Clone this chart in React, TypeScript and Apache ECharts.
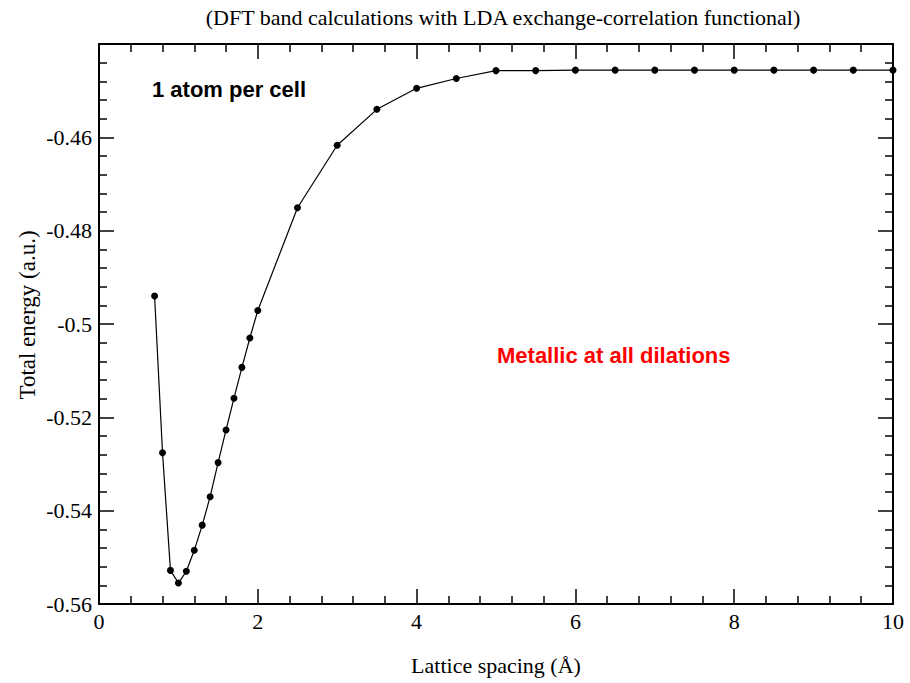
import React, { useEffect, useRef } from "react";
import * as echarts from "echarts";

const latticeSpacing = [0.7, 0.8, 0.9, 1.0, 1.1, 1.2, 1.3, 1.4, 1.5, 1.6, 1.7, 1.8, 1.9, 2.0, 2.5, 3.0, 3.5, 4.0, 4.5, 5.0, 5.5, 6.0, 6.5, 7.0, 7.5, 8.0, 8.5, 9.0, 9.5, 10.0];
const totalEnergy = [-0.494, -0.5276, -0.5528, -0.5555, -0.553, -0.5485, -0.5431, -0.537, -0.5297, -0.5227, -0.5159, -0.5093, -0.503, -0.4971, -0.4751, -0.4617, -0.454, -0.4495, -0.4474, -0.4457, -0.4457, -0.4456, -0.4456, -0.4456, -0.4456, -0.4456, -0.4456, -0.4456, -0.4456, -0.4456];

const titleText = "(DFT band calculations with LDA exchange-correlation functional)";
const xAxisTitle = "Lattice spacing (Å)";
const yAxisTitle = "Total energy (a.u.)";
const note1 = "1 atom per cell";
const note2 = "Metallic at all dilations";

const SERIF = "'Liberation Serif', 'Times New Roman', serif";
const SANS = "'Liberation Sans', Arial, sans-serif";

export default function App() {
  const ref = useRef<HTMLDivElement>(null);
  useEffect(() => {
    if (!ref.current) return;
    const chart = echarts.init(ref.current, null, { renderer: "svg" });
    const pts = latticeSpacing.map((x, i) => [x, totalEnergy[i]]);
    const tickCommon = {
      axisLine: { show: true, onZero: false, lineStyle: { color: "#000", width: 2 } },
      axisTick: { show: true, inside: true, length: 15, lineStyle: { color: "#000", width: 1.5 } },
      minorTick: { show: true, splitNumber: 5, length: 8, lineStyle: { color: "#000", width: 1.5 } },
      splitLine: { show: false },
      minorSplitLine: { show: false },
    };
    chart.setOption({
      animation: false,
      backgroundColor: "#fff",
      title: {
        text: titleText,
        left: 498,
        textAlign: "center",
        top: 1,
        textStyle: { fontFamily: SERIF, fontSize: 22, fontWeight: "normal", color: "#000" },
      },
      grid: { left: 99, right: 17, top: 44, bottom: 79, containLabel: false },
      xAxis: [
        {
          type: "value",
          min: 0,
          max: 10,
          interval: 2,
          position: "bottom",
          ...tickCommon,
          axisLabel: { color: "#000", fontFamily: SERIF, fontSize: 22, margin: 6 },
          name: xAxisTitle,
          nameLocation: "middle",
          nameGap: 50,
          nameTextStyle: { fontFamily: SERIF, fontSize: 22, color: "#000" },
        },
        {
          type: "value",
          min: 0,
          max: 10,
          interval: 2,
          position: "top",
          ...tickCommon,
          axisLabel: { show: false },
        },
      ],
      yAxis: [
        {
          type: "value",
          min: -0.56,
          max: -0.44,
          interval: 0.02,
          position: "left",
          ...tickCommon,
          axisLabel: {
            color: "#000",
            fontFamily: SERIF,
            fontSize: 22,
            margin: 7,
            formatter: (v: number) => (v > -0.445 ? "" : String(Math.round(v * 100) / 100)),
          },
        },
        {
          type: "value",
          min: -0.56,
          max: -0.44,
          interval: 0.02,
          position: "right",
          ...tickCommon,
          axisLabel: { show: false },
        },
      ],
      graphic: [
        {
          type: "text",
          x: 27,
          y: 315,
          rotation: Math.PI / 2,
          style: {
            text: yAxisTitle,
            fontFamily: SERIF,
            fontSize: 23,
            fill: "#000",
            align: "center",
            verticalAlign: "middle",
          },
        },
        {
          type: "text",
          left: 152,
          top: 78,
          style: { text: note1, fontFamily: SANS, fontSize: 22, fontWeight: "bold", fill: "#000" },
        },
        {
          type: "text",
          left: 497,
          top: 344,
          style: { text: note2, fontFamily: SANS, fontSize: 22, fontWeight: "bold", fill: "#ff0000" },
        },
      ],
      series: [
        {
          type: "line",
          data: pts,
          xAxisIndex: 0,
          yAxisIndex: 0,
          clip: false,
          symbol: "circle",
          symbolSize: 7,
          itemStyle: { color: "#000" },
          lineStyle: { color: "#000", width: 1.2 },
        },
      ],
    });
    return () => chart.dispose();
  }, []);
  return (
    <div
      ref={ref}
      style={{ position: "absolute", left: 0, top: 0, width: 910, height: 683 }}
    />
  );
}
